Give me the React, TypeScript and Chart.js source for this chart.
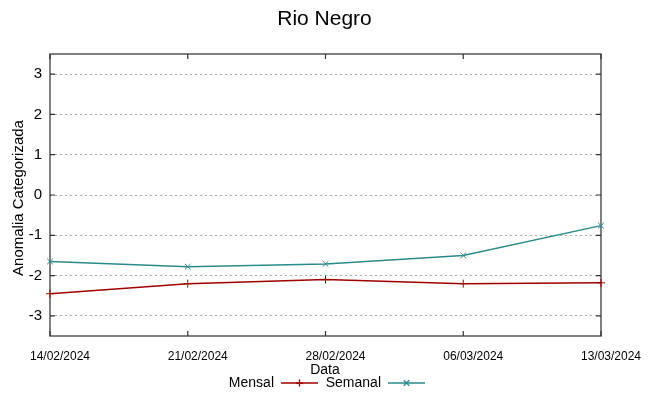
import React, { useEffect, useRef } from "react";
import { Chart, registerables } from "chart.js";

Chart.register(...registerables);

const categories = ["14/02/2024", "21/02/2024", "28/02/2024", "06/03/2024", "13/03/2024"];
const mensal = [-2.45, -2.2, -2.1, -2.2, -2.18];
const semanal = [-1.65, -1.78, -1.71, -1.5, -0.76];
const yTicks = [-3, -2, -1, 0, 1, 2, 3];
const titleText = "Rio Negro";
const xTitle = "Data";
const yTitle = "Anomalia Categorizada";
const seriesNames = ["Mensal", "Semanal"];
const seriesColors = ["#a00000", "#2a8a8a"];
const seriesMarkers = ["cross", "crossRot"];

const FONT = "'Liberation Sans', Arial, sans-serif";

const decorPlugin = {
  id: "decor",
  beforeDatasetsDraw(chart: any) {
    const { ctx, chartArea } = chart;
    const { left, right, top, bottom } = chartArea;
    const yScale = chart.scales.y;
    const xScale = chart.scales.x;
    ctx.save();
    // frame
    ctx.strokeStyle = "#555555";
    ctx.lineWidth = 1.5;
    ctx.strokeRect(left, top, right - left, bottom - top);
    // inward ticks
    ctx.lineWidth = 1.2;
    ctx.strokeStyle = "#333333";
    yTicks.forEach((v) => {
      const y = yScale.getPixelForValue(v);
      ctx.beginPath();
      ctx.moveTo(left, y);
      ctx.lineTo(left + 5, y);
      ctx.moveTo(right, y);
      ctx.lineTo(right - 5, y);
      ctx.stroke();
    });
    categories.forEach((_c, i) => {
      const x = xScale.getPixelForValue(i);
      ctx.beginPath();
      ctx.moveTo(x, bottom);
      ctx.lineTo(x, bottom - 5);
      ctx.moveTo(x, top);
      ctx.lineTo(x, top + 5);
      ctx.stroke();
    });
    ctx.restore();
  },
  afterDraw(chart: any) {
    const { ctx, chartArea, width } = chart;
    const { top, bottom } = chartArea;
    ctx.save();
    ctx.fillStyle = "#000000";
    // title
    ctx.font = `21px ${FONT}`;
    ctx.textAlign = "center";
    ctx.textBaseline = "middle";
    ctx.fillText(titleText, width / 2, 19);
    // x title
    ctx.font = `14px ${FONT}`;
    ctx.fillText(xTitle, 325, 370);
    // y title
    ctx.save();
    ctx.translate(18.5, (top + bottom) / 2 + 3);
    ctx.rotate(-Math.PI / 2);
    ctx.font = `15px ${FONT}`;
    ctx.fillText(yTitle, 0, 0);
    ctx.restore();
    // legend
    const legendY = 383;
    const textRights = [274, 381];
    seriesNames.forEach((name, i) => {
      ctx.font = `14px ${FONT}`;
      ctx.textAlign = "right";
      ctx.textBaseline = "middle";
      ctx.fillStyle = "#000000";
      ctx.fillText(name, textRights[i], legendY);
      const x0 = textRights[i] + 7;
      const x1 = x0 + 37;
      ctx.strokeStyle = seriesColors[i];
      ctx.lineWidth = 1.3;
      ctx.beginPath();
      ctx.moveTo(x0, legendY);
      ctx.lineTo(x1, legendY);
      ctx.stroke();
      const mx = (x0 + x1) / 2;
      const r = 3.5;
      ctx.beginPath();
      if (seriesMarkers[i] === "cross") {
        ctx.moveTo(mx, legendY - r);
        ctx.lineTo(mx, legendY + r);
        ctx.moveTo(mx - r, legendY);
        ctx.lineTo(mx + r, legendY);
      } else {
        ctx.moveTo(mx - r * 0.8, legendY - r * 0.8);
        ctx.lineTo(mx + r * 0.8, legendY + r * 0.8);
        ctx.moveTo(mx - r * 0.8, legendY + r * 0.8);
        ctx.lineTo(mx + r * 0.8, legendY - r * 0.8);
      }
      ctx.stroke();
    });
    ctx.restore();
  },
};

export default function App() {
  const canvasRef = useRef<HTMLCanvasElement | null>(null);

  useEffect(() => {
    if (!canvasRef.current) return;
    const chart = new Chart(canvasRef.current, {
      type: "line",
      data: {
        labels: categories,
        datasets: [
          {
            label: seriesNames[0],
            data: mensal,
            borderColor: seriesColors[0],
            backgroundColor: seriesColors[0],
            borderWidth: 1.5,
            pointStyle: seriesMarkers[0] as any,
            pointRadius: 4,
            pointBorderWidth: 1,
            tension: 0,
          },
          {
            label: seriesNames[1],
            data: semanal,
            borderColor: seriesColors[1],
            backgroundColor: seriesColors[1],
            borderWidth: 1.5,
            pointStyle: seriesMarkers[1] as any,
            pointRadius: 4,
            pointBorderWidth: 1,
            tension: 0,
          },
        ],
      },
      options: {
        animation: false,
        responsive: true,
        maintainAspectRatio: false,
        layout: { padding: { left: 0, right: 48, top: 54, bottom: 0 } },
        plugins: {
          legend: { display: false },
          title: { display: false },
          tooltip: { enabled: false },
        },
        scales: {
          x: {
            type: "category",
            offset: false,
            grid: { display: false, drawTicks: false },
            border: { display: false },
            ticks: {
              color: "#000000",
              font: { family: FONT, size: 12 },
              padding: 13,
              labelOffset: 10,
              maxRotation: 0,
              autoSkip: false,
            },
            afterFit: (scale: any) => {
              scale.height = 60;
            },
          },
          y: {
            min: -3.5,
            max: 3.5,
            afterBuildTicks: (scale: any) => {
              scale.ticks = yTicks.map((v) => ({ value: v }));
            },
            grid: {
              color: "#aaaaaa",
              lineWidth: 1,
              drawTicks: false,
            },
            border: { display: false, dash: [2, 3] },
            ticks: {
              color: "#000000",
              font: { family: FONT, size: 15 },
              padding: 8,
            },
            afterFit: (scale: any) => {
              scale.width = 50;
            },
          },
        },
      },
      plugins: [decorPlugin],
    });
    return () => chart.destroy();
  }, []);

  return (
    <div style={{ position: "absolute", left: 0, top: 0, width: 649, height: 396, background: "#ffffff" }}>
      <canvas ref={canvasRef} />
    </div>
  );
}
